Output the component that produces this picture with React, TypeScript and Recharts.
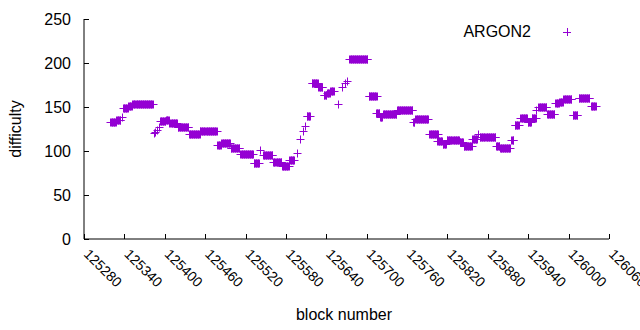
import React from "react";
import { ScatterChart, Scatter, XAxis, YAxis } from "recharts";

// Runs of blocks that share one difficulty value.
// A run whose start equals its end is a single block.
const runStart = [
  125319, 125328, 125336, 125338, 125346, 125352, 125384, 125386, 125388, 125391,
  125393, 125402, 125407, 125419, 125436, 125452, 125478, 125484, 125498, 125512,
  125532, 125542, 125546, 125561, 125574, 125585, 125597, 125601, 125606, 125609,
  125611, 125618, 125628, 125636, 125641, 125646, 125657, 125664, 125668, 125671,
  125674, 125703, 125714, 125720, 125724, 125745, 125769, 125772, 125793, 125805,
  125813, 125819, 125838, 125844, 125857, 125866, 125868, 125892, 125898, 125915,
  125920, 125928, 125939, 125945, 125952, 125955, 125968, 125980, 125986, 125992,
  126006, 126015, 126033,
];
const runEnd = [
  125327, 125334, 125336, 125345, 125351, 125382, 125384, 125386, 125388, 125391,
  125401, 125406, 125418, 125435, 125452, 125477, 125483, 125497, 125511, 125531,
  125540, 125542, 125560, 125573, 125584, 125592, 125597, 125601, 125606, 125609,
  125616, 125627, 125634, 125640, 125645, 125651, 125657, 125664, 125668, 125671,
  125701, 125715, 125719, 125723, 125744, 125768, 125771, 125791, 125806, 125812,
  125818, 125837, 125843, 125856, 125864, 125866, 125891, 125897, 125913, 125918,
  125926, 125938, 125944, 125951, 125952, 125967, 125979, 125985, 125991, 126004,
  126013, 126031, 126040,
];
const runValue = [
  133, 135, 139, 149, 151, 153, 120, 122, 124, 127,
  134, 135, 132, 127, 119, 123, 107, 109, 103, 97,
  86, 101, 95, 87, 83, 90, 98, 114, 123, 128,
  140, 177, 173, 164, 166, 168, 153, 173, 177, 179,
  204, 162, 143, 139, 142, 147, 133, 136, 119, 111,
  108, 112, 110, 106, 114, 119, 116, 106, 103, 112,
  129, 137, 133, 138, 147, 150, 142, 154, 156, 159,
  141, 160, 151,
];

const xTicks = [125280, 125340, 125400, 125460, 125520, 125580, 125640, 125700, 125760, 125820, 125880, 125940, 126000, 126060];
const yTicks = [0, 50, 100, 150, 200, 250];
const seriesName = "ARGON2";

const data: { block: number; difficulty: number }[] = [];
runStart.forEach((s, i) => {
  for (let b = s; b <= runEnd[i]; b++) data.push({ block: b, difficulty: runValue[i] });
});

const COLOR = "#9400d3";
const FONT = "'Liberation Sans', Arial, sans-serif";

const Cross = (props: any) => {
  const { cx, cy } = props;
  if (cx == null || cy == null) return null;
  const x = Math.round(cx) + 0.5;
  const y = Math.round(cy) + 0.5;
  return <path d={`M${x - 4},${y}h8M${x},${y - 4}v8`} stroke={COLOR} strokeWidth={1} fill="none" />;
};

const BottomTick = (props: any) => {
  const { x, y, payload } = props;
  const tx = Math.round(x) + 0.5;
  return (
    <g>
      <line x1={tx} y1={y} x2={tx} y2={y - 5} stroke="#000" />
      <text
        x={x - 1}
        y={y + 16}
        transform={`rotate(45, ${x - 1}, ${y + 16})`}
        textAnchor="start"
        fontFamily={FONT}
        fontSize={14}
        fill="#000"
      >
        {payload.value}
      </text>
    </g>
  );
};

const TopTick = (props: any) => {
  const { x, y } = props;
  const tx = Math.round(x) + 0.5;
  return <line x1={tx} y1={y} x2={tx} y2={y + 5} stroke="#000" />;
};

const LeftTick = (props: any) => {
  const { x, y, payload } = props;
  const ty = Math.round(y) + 0.5;
  return (
    <g>
      <line x1={x} y1={ty} x2={x + 5} y2={ty} stroke="#000" />
      <text x={x - 13} y={y + 6} textAnchor="end" fontFamily={FONT} fontSize={16} fill="#000">
        {payload.value}
      </text>
    </g>
  );
};

const RightTick = (props: any) => {
  const { x, y } = props;
  const ty = Math.round(y) + 0.5;
  return <line x1={x} y1={ty} x2={x - 5} y2={ty} stroke="#000" />;
};

export default function App() {
  return (
    <div style={{ position: "absolute", left: 0, top: 0, background: "#fff" }}>
      <ScatterChart width={640} height={330} margin={{ top: 19, right: 31, left: 24, bottom: 31 }}>
        <XAxis
          xAxisId="b"
          dataKey="block"
          type="number"
          domain={[125280, 126060]}
          ticks={xTicks}
          interval={0}
          tickSize={0}
          tickMargin={0}
          tickLine={false}
          height={60}
          axisLine={{ stroke: "#000" }}
          tick={<BottomTick />}
        />
        <XAxis
          xAxisId="t"
          orientation="top"
          dataKey="block"
          type="number"
          domain={[125280, 126060]}
          ticks={xTicks}
          interval={0}
          tickSize={0}
          tickMargin={0}
          tickLine={false}
          height={0}
          axisLine={{ stroke: "#000" }}
          tick={<TopTick />}
        />
        <YAxis
          yAxisId="l"
          dataKey="difficulty"
          type="number"
          domain={[0, 250]}
          ticks={yTicks}
          interval={0}
          tickSize={0}
          tickMargin={0}
          tickLine={false}
          width={60}
          axisLine={{ stroke: "#000" }}
          tick={<LeftTick />}
        />
        <YAxis
          yAxisId="r"
          orientation="right"
          dataKey="difficulty"
          type="number"
          domain={[0, 250]}
          ticks={yTicks}
          interval={0}
          tickSize={0}
          tickMargin={0}
          tickLine={false}
          width={0}
          axisLine={{ stroke: "#000" }}
          tick={<RightTick />}
        />
        <Scatter
          name={seriesName}
          data={data}
          xAxisId="b"
          yAxisId="l"
          fill={COLOR}
          shape={<Cross />}
          isAnimationActive={false}
        />
        <text x={21} y={129} transform="rotate(-90, 21, 129)" textAnchor="middle" fontFamily={FONT} fontSize={16} fill="#000">
          difficulty
        </text>
        <text x={344} y={320} textAnchor="middle" fontFamily={FONT} fontSize={16} fill="#000">
          block number
        </text>
        <text x={531} y={37} textAnchor="end" fontFamily={FONT} fontSize={16} fill="#000">
          {seriesName}
        </text>
        <path d="M563,32.5h8M567.5,28v8" stroke={COLOR} strokeWidth={1} fill="none" />
      </ScatterChart>
    </div>
  );
}
